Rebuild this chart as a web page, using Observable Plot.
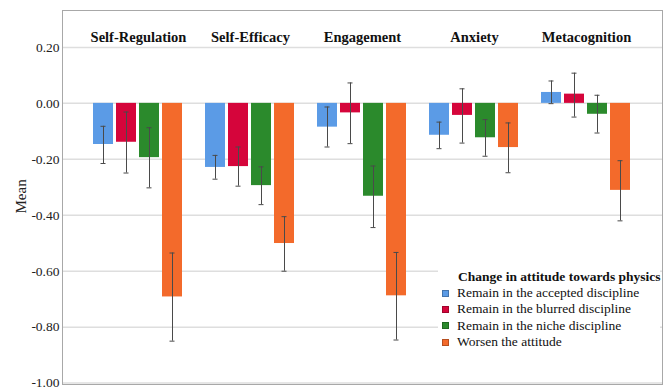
<!DOCTYPE html>
<html>
<head>
<meta charset="utf-8">
<script src="https://cdn.jsdelivr.net/npm/d3@7"></script>
<script src="https://cdn.jsdelivr.net/npm/@observablehq/plot@0.6"></script>
<style>
  html, body { margin: 0; padding: 0; background: white; }
  #wrap { position: relative; width: 663px; height: 387px; overflow: hidden; }
  #wrap svg { position: absolute; left: 0; top: 0; }
  #legend { position: absolute; left: 438px; top: 269px; width: 222px; background: white;
            font-family: "Liberation Serif", "Times New Roman", serif; color: #111; }
  #legend .title { font-weight: bold; font-size: 13.5px; line-height: 16px; padding-left: 20px; white-space: nowrap; }
  #legend .item { font-size: 13.5px; line-height: 16.3px; white-space: nowrap; display: flex; align-items: center; }
  #legend .sw { display: inline-block; width: 7px; height: 7px; margin-left: 4px; margin-right: 8px;
                border: 1px solid rgba(0,0,0,0.25); box-sizing: border-box; }
</style>
</head>
<body>
<div id="wrap"></div>
<script>
// ---- data ----
const groups = ["Self-Regulation", "Self-Efficacy", "Engagement", "Anxiety", "Metacognition"];
const seriesNames = [
  "Remain in the accepted discipline",
  "Remain in the blurred discipline",
  "Remain in the niche discipline",
  "Worsen the attitude"
];
const colors = ["#5b9be6", "#d5053b", "#2b8a2c", "#f36a2b"];
const legendTitle = "Change in attitude towards physics";
const yLabel = "Mean";
const yTicks = [-1.0, -0.8, -0.6, -0.4, -0.2, 0.0, 0.2];

// means per series (in group order)
const meanAccepted = [-0.147, -0.229, -0.085, -0.114, 0.039];
const meanBlurred  = [-0.139, -0.226, -0.034, -0.043, 0.033];
const meanNiche    = [-0.194, -0.294, -0.332, -0.123, -0.039];
const meanWorsen   = [-0.692, -0.501, -0.688, -0.158, -0.311];
// error bar lower ends
const lowAccepted = [-0.215, -0.271, -0.156, -0.162, -0.001];
const lowBlurred  = [-0.249, -0.296, -0.144, -0.142, -0.049];
const lowNiche    = [-0.302, -0.362, -0.444, -0.189, -0.106];
const lowWorsen   = [-0.850, -0.600, -0.846, -0.248, -0.420];
// error bar upper ends
const highAccepted = [-0.082, -0.186, -0.013, -0.067, 0.080];
const highBlurred  = [-0.031, -0.156, 0.073, 0.052, 0.108];
const highNiche    = [-0.087, -0.227, -0.224, -0.058, 0.029];
const highWorsen   = [-0.535, -0.405, -0.533, -0.070, -0.205];

const means = [meanAccepted, meanBlurred, meanNiche, meanWorsen];
const lows = [lowAccepted, lowBlurred, lowNiche, lowWorsen];
const highs = [highAccepted, highBlurred, highNiche, highWorsen];

const rows = [];
groups.forEach((g, gi) => {
  seriesNames.forEach((s, si) => {
    rows.push({group: g, series: s, mean: means[si][gi], lo: lows[si][gi], hi: highs[si][gi]});
  });
});

const W = 663, H = 387;
const M = {marginLeft: 62, marginRight: 1, marginTop: 10, marginBottom: 3};
const yDomain = [-1.005, 0.332];
const font = "'Liberation Serif', 'Times New Roman', serif";

// background layer: grid, frame, y axis
const bg = Plot.plot({
  width: W, height: H, ...M,
  style: {fontFamily: font, fontSize: "13.5px", color: "#222", background: "white"},
  y: {domain: yDomain, ticks: yTicks, tickFormat: d => d.toFixed(2), tickSize: 0, tickPadding: 3, label: null},
  marks: [
    Plot.ruleY(yTicks, {stroke: "#dedede", strokeWidth: 1.5}),
    Plot.frame({stroke: "#a8a8a8"}),
    Plot.text([yLabel], {frameAnchor: "left", dx: -41, dy: 16, rotate: -90, fontSize: 15, fill: "#222"})
  ]
});

// foreground layer: bars, error bars, group titles
const errColor = "#4a4a4a";
const fg = Plot.plot({
  width: W, height: H, ...M,
  style: {fontFamily: font, fontSize: "13.5px", color: "#111", background: "none"},
  fx: {domain: groups, paddingInner: 0.144, paddingOuter: 0.246, axis: null, label: null},
  x: {domain: seriesNames, paddingInner: 0.12, paddingOuter: 0.12, axis: null},
  y: {domain: yDomain, axis: null},
  color: {domain: seriesNames, range: colors},
  marks: [
    Plot.barY(rows, {fx: "group", x: "series", y1: () => 0, y2: "mean", fill: "series"}),
    Plot.ruleX(rows, {fx: "group", x: "series", y1: "lo", y2: "hi", stroke: errColor, strokeWidth: 1}),
    Plot.tickY(rows, {fx: "group", x: "series", y: "lo", stroke: errColor, strokeWidth: 1, insetLeft: 7.5, insetRight: 7.5}),
    Plot.tickY(rows, {fx: "group", x: "series", y: "hi", stroke: errColor, strokeWidth: 1, insetLeft: 7.5, insetRight: 7.5}),
    Plot.text(groups, {fx: d => d, text: d => d, frameAnchor: "top", dy: 27, lineAnchor: "middle",
                       fontWeight: "bold", fontSize: 14.5, fill: "#111"})
  ]
});

const wrap = document.getElementById("wrap");
wrap.appendChild(bg);
wrap.appendChild(fg);

// legend (inside plot area, bottom right)
const leg = document.createElement("div");
leg.id = "legend";
const t = document.createElement("div");
t.className = "title";
t.textContent = legendTitle;
leg.appendChild(t);
seriesNames.forEach((s, i) => {
  const it = document.createElement("div");
  it.className = "item";
  const sw = document.createElement("span");
  sw.className = "sw";
  sw.style.background = colors[i];
  it.appendChild(sw);
  const lab = document.createElement("span");
  lab.textContent = s;
  it.appendChild(lab);
  leg.appendChild(it);
});
wrap.appendChild(leg);
</script>
</body>
</html>
